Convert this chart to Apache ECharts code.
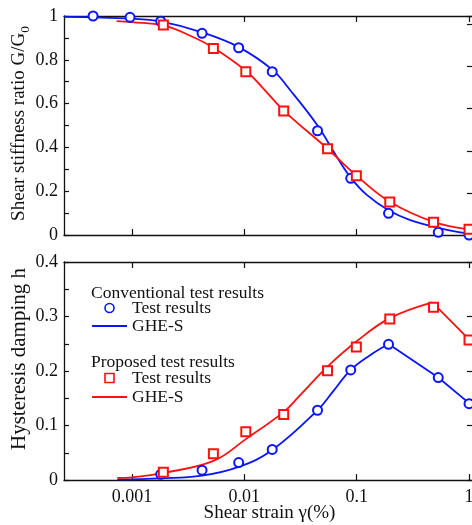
<!DOCTYPE html>
<html>
<head>
<meta charset="utf-8">
<script src="https://cdn.jsdelivr.net/npm/echarts@6/dist/echarts.min.js"></script>
<style>
  html, body { margin: 0; padding: 0; background: #fff; }
  #chart { width: 472px; height: 525px; }
</style>
</head>
<body>
<div id="chart"></div>
<script>
// Shear strain (%) of the conventional test points and their results
const convStrain = [0.00045, 0.00096, 0.0018, 0.0042, 0.0089, 0.0177, 0.0448, 0.0885, 0.192, 0.532, 1.0];
const convG = [1.0, 0.994, 0.976, 0.921, 0.855, 0.746, 0.476, 0.259, 0.099, 0.012, 0.0];
const convDampStrain = [0.0018, 0.0042, 0.0089, 0.0177, 0.0448, 0.0885, 0.192, 0.532, 1.0];
const convH = [0.0105, 0.018, 0.032, 0.056, 0.128, 0.202, 0.249, 0.188, 0.140];

// Proposed test points
const propStrain = [0.0019, 0.0053, 0.0103, 0.0224, 0.055, 0.0993, 0.197, 0.483, 1.0];
const propG = [0.959, 0.852, 0.746, 0.566, 0.394, 0.271, 0.151, 0.058, 0.026];
const propH = [0.0141, 0.048, 0.0887, 0.120, 0.2006, 0.244, 0.2954, 0.317, 0.257];

// GHE-S model curves, G/G0
const convFitGStrain = [0.00025, 0.001, 0.0018, 0.0042, 0.0089, 0.0177, 0.0255, 0.0448, 0.066, 0.0885, 0.123, 0.192, 0.3, 0.532, 1.0];
const convFitG = [0.996, 0.988, 0.975, 0.925, 0.858, 0.755, 0.662, 0.50, 0.36, 0.262, 0.183, 0.113, 0.068, 0.033, 0.006];
const propFitGStrain = [0.00073, 0.001, 0.0019, 0.0033, 0.0053, 0.0103, 0.0147, 0.0224, 0.055, 0.0993, 0.197, 0.483, 1.0];
const propFitG = [0.977, 0.972, 0.957, 0.91, 0.855, 0.75, 0.67, 0.568, 0.394, 0.272, 0.152, 0.060, 0.026];

// GHE-S model curves, damping: rising branch up to the peak, then the falling branch
const convFitHStrain = [0.00074, 0.0018, 0.0042, 0.0089, 0.0177, 0.0448, 0.0619, 0.0885, 0.1315, 0.192];
const convFitH = [0.001, 0.003, 0.008, 0.024, 0.055, 0.128, 0.163, 0.202, 0.229, 0.2495];
const convFallStrain = [0.192, 0.532, 1.0];
const convFallH = [0.2495, 0.188, 0.141];
const propFitHStrain = [0.00074, 0.001, 0.0019, 0.0053, 0.0103, 0.0224, 0.0311, 0.055, 0.0993, 0.197, 0.471];
const propFitH = [0.004, 0.005, 0.013, 0.035, 0.075, 0.125, 0.155, 0.208, 0.254, 0.297, 0.326];
const propFallStrain = [0.471, 1.0];
const propFallH = [0.326, 0.258];

const xTicks = [0.001, 0.01, 0.1, 1];

const BLUE = '#0a14ff';
const RED = '#ff1010';
const FONT = 'Liberation Serif';
const INK = '#111';

function pairs(xs, ys) { return xs.map((x, i) => [x, ys[i]]); }

const legendNames = {
  'conv-test': 'Test results', 'conv-fit': 'GHE-S',
  'prop-test': 'Test results', 'prop-fit': 'GHE-S'
};

const X_MIN = 0.000248, X_MAX = 1.13;

function xAxis(gridIndex, position, labels) {
  return {
    type: 'log', logBase: 10, gridIndex, position,
    min: X_MIN, max: X_MAX,
    axisLine: { show: true, onZero: false, lineStyle: { color: INK, width: 1.3 } },
    axisTick: { show: true, inside: true, length: 6, lineStyle: { color: INK, width: 1.2 }, customValues: xTicks },
    axisLabel: {
      show: labels, customValues: xTicks, margin: 8,
      fontFamily: FONT, fontSize: 18, color: INK,
      formatter: v => String(+v.toPrecision(3))
    },
    splitLine: { show: false },
    minorTick: { show: false },
    name: labels ? 'Shear strain \u03b3(%)' : '',
    nameLocation: 'middle', nameGap: 24, nameMoveOverlap: false,
    nameTextStyle: { fontFamily: FONT, fontSize: 19, color: INK }
  };
}

function yAxis(gridIndex, position, max, interval, labels, name, titleSize, shiftUp) {
  return {
    type: 'value', gridIndex, position, min: 0, max, interval,
    axisLine: { show: true, lineStyle: { color: INK, width: 1.3 } },
    axisTick: { show: true, inside: true, length: position === 'left' ? 5 : 8, lineStyle: { color: INK, width: 1.2 } },
    minorTick: { show: labels, splitNumber: 2, length: 5, lineStyle: { color: INK, width: 1.2 } },
    axisLabel: { show: labels, margin: 6, fontFamily: FONT, fontSize: 18, color: INK,
      formatter: v => String(+v.toFixed(2)) },
    splitLine: { show: false },
    name: name || '', nameLocation: 'middle', nameGap: 32, nameRotate: 90, nameMoveOverlap: false,
    nameTextStyle: {
      fontFamily: FONT, fontSize: titleSize || 20, color: INK, lineHeight: 26,
      padding: [0, 0, 0, 2 * (shiftUp || 0)],
      rich: {
        a: { fontFamily: FONT, fontSize: titleSize || 20, color: INK, lineHeight: 26 },
        s: { fontFamily: FONT, fontSize: 13.5, color: INK, lineHeight: 14, verticalAlign: 'bottom' }
      }
    }
  };
}

function fitLine(name, x, y, xi, yi, color, smooth) {
  return {
    name, type: 'line', xAxisIndex: xi, yAxisIndex: yi,
    data: pairs(x, y), smooth, symbol: 'none',
    lineStyle: { color, width: 1.8 }, itemStyle: { color }, z: 2, clip: true
  };
}

function points(name, x, y, xi, yi, color, symbol) {
  return {
    name, type: 'scatter', xAxisIndex: xi, yAxisIndex: yi,
    data: pairs(x, y), symbol, symbolSize: 9,
    itemStyle: { color, borderColor: color, borderWidth: 1.6, opacity: 1 }, z: 3, clip: false
  };
}

const legendText = { fontFamily: FONT, fontSize: 17.5, color: INK, lineHeight: 18 };
const LINE_ICON = 'path://M0,0H35V2H0Z';
const SQUARE_ICON = 'path://M0,0H10V10H0Z';

function legendItems(prefix, color, markIcon) {
  return [
    { name: prefix + '-test', icon: markIcon,
      itemStyle: { color: '#fff', borderColor: color, borderWidth: 1.6 } },
    { name: prefix + '-fit', icon: LINE_ICON,
      itemStyle: { color, borderWidth: 0 } }
  ];
}

const headingStyle = { fontFamily: FONT, fontSize: 17.5, fontWeight: 'normal', color: INK };

const option = {
  animation: false,
  backgroundColor: '#fff',
  title: [
    { text: 'Conventional test results', left: 91, top: 284, padding: 0, textStyle: headingStyle },
    { text: 'Proposed test results', left: 91, top: 353, padding: 0, textStyle: headingStyle }
  ],
  legend: [
    { data: legendItems('conv', BLUE, 'circle'), left: 92, top: 299, orient: 'vertical', padding: 0,
      itemWidth: 35, itemHeight: 9, itemGap: 0, selectedMode: false,
      formatter: n => legendNames[n], textStyle: legendText },
    { data: legendItems('prop', RED, SQUARE_ICON), left: 92, top: 369, orient: 'vertical', padding: 0,
      itemWidth: 35, itemHeight: 9, itemGap: 1, selectedMode: false,
      formatter: n => legendNames[n], textStyle: legendText }
  ],
  grid: [
    { left: 64, top: 16, width: 411, height: 219, outerBoundsMode: 'none', containLabel: false },
    { left: 64, top: 262, width: 411, height: 218, outerBoundsMode: 'none', containLabel: false }
  ],
  xAxis: [
    xAxis(0, 'bottom', false), xAxis(0, 'top', false),
    xAxis(1, 'bottom', true), xAxis(1, 'top', false)
  ],
  yAxis: [
    yAxis(0, 'left', 1, 0.2, true, '{a|Shear stiffness ratio G/G}{s|0}', 19, 2),
    yAxis(0, 'right', 1.04, 0.2, false),
    yAxis(1, 'left', 0.4, 0.1, true, 'Hysteresis damping h', 21, 12),
    yAxis(1, 'right', 0.4, 0.1, false)
  ],
  series: [
    fitLine('conv-fit', convFitGStrain, convFitG, 0, 0, BLUE, 0.4),
    fitLine('prop-fit', propFitGStrain, propFitG, 0, 0, RED, 0.4),
    points('conv-test', convStrain, convG, 0, 0, BLUE, 'emptyCircle'),
    points('prop-test', propStrain, propG, 0, 0, RED, 'emptyRect'),

    fitLine('conv-fit', convFitHStrain, convFitH, 2, 2, BLUE, 0.4),
    fitLine('conv-fit', convFallStrain, convFallH, 2, 2, BLUE, false),
    fitLine('prop-fit', propFitHStrain, propFitH, 2, 2, RED, 0.4),
    fitLine('prop-fit', propFallStrain, propFallH, 2, 2, RED, false),
    points('conv-test', convDampStrain, convH, 2, 2, BLUE, 'emptyCircle'),
    points('prop-test', propStrain, propH, 2, 2, RED, 'emptyRect')
  ]
};

const chart = echarts.init(document.getElementById('chart'), null, { renderer: 'canvas' });
chart.setOption(option);
</script>
</body>
</html>
